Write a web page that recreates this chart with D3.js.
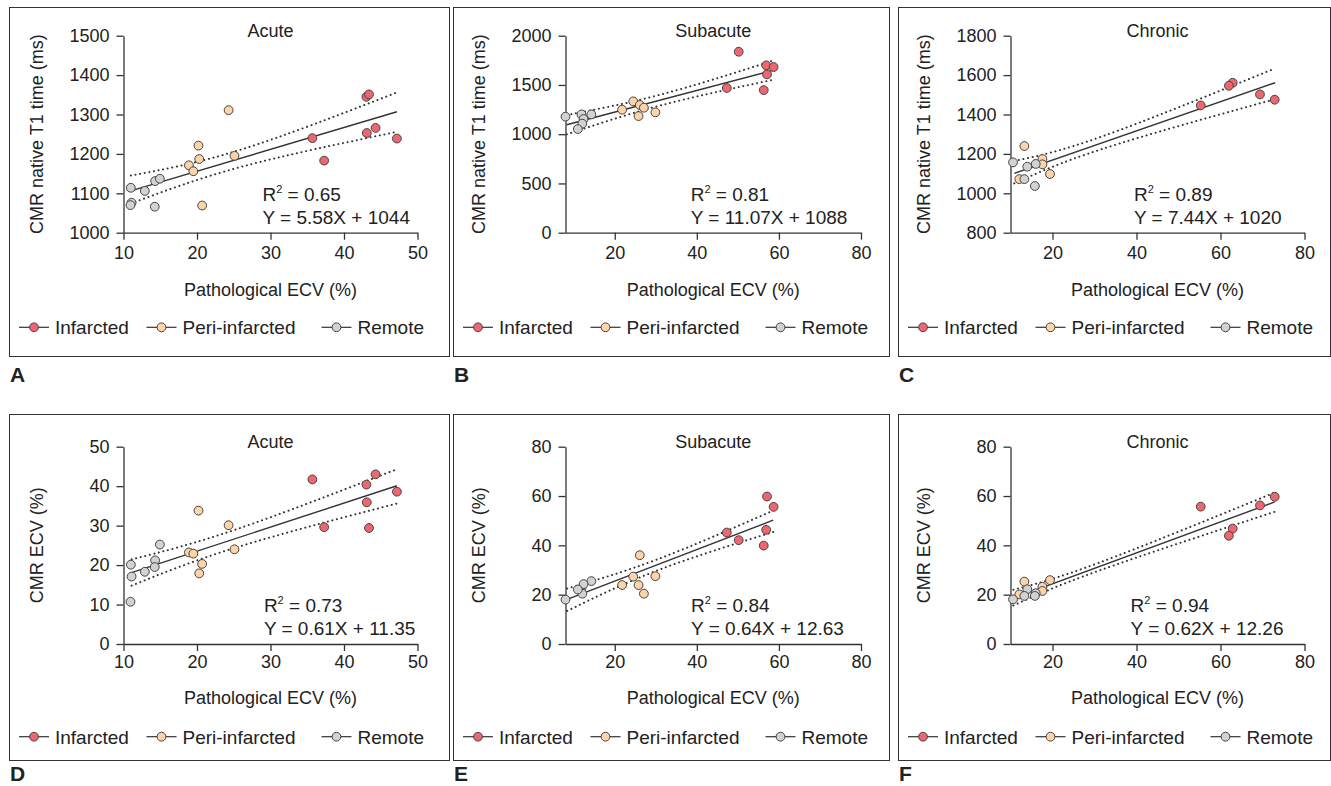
<!DOCTYPE html>
<html>
<head>
<meta charset="utf-8">
<script src="https://cdn.jsdelivr.net/npm/d3@7"></script>
<style>
  body { margin: 0; background: #fff; }
  text { font-family: "Liberation Sans", Arial, sans-serif; fill: #222; }
</style>
</head>
<body>
<div id="chart"></div>
<script>
// ---- data ----
var groups = ["Infarcted", "Peri-infarcted", "Remote"];
var groupFill = ["#ee6770", "#fdd3a8", "#d2d2d2"];

// pathological ECV (%) per sample (x axis, shared by the T1 and ECV panels)
var acuteInfX    = [35.7, 37.3, 47.2, 44.3, 43.05, 43.1, 43.4];
var acutePeriX   = [24.3, 20.2, 20.3, 18.9, 19.5, 25.1, 20.7];
var acuteRemX    = [11.0, 11.1, 10.95, 12.9, 14.3, 14.95, 14.25];
var subInfX      = [50.2, 56.9, 58.7, 57.1, 47.3, 56.3];
var subPeriX     = [24.5, 26.1, 27.1, 21.8, 29.9, 25.8];
var subRemX      = [8.0, 11.9, 14.3, 12.4, 12.1, 11.0];
var chrInfX      = [62.9, 62.0, 55.3, 69.4, 72.9];
var chrPeriX     = [13.3, 17.6, 17.6, 19.4, 12.1];
var chrRemX      = [10.6, 14.0, 16.0, 13.3, 15.8];

// CMR native T1 time (ms)
var acuteInfT1   = [1240, 1183, 1239, 1266, 1345, 1253, 1351];
var acutePeriT1  = [1311, 1221, 1187, 1171, 1156, 1195, 1069];
var acuteRemT1   = [1114, 1076, 1070, 1106, 1131, 1137, 1066];
var subInfT1     = [1837, 1699, 1682, 1607, 1469, 1448];
var subPeriT1    = [1333, 1296, 1269, 1249, 1222, 1184];
var subRemT1     = [1178, 1201, 1201, 1154, 1107, 1052];
var chrInfT1     = [1561, 1546, 1446, 1502, 1475];
var chrPeriT1    = [1240, 1174, 1147, 1098, 1072];
var chrRemT1     = [1157, 1135, 1149, 1072, 1037];

// CMR ECV (%)
var acuteInfEcv  = [41.7, 29.6, 38.6, 43.0, 40.4, 35.9, 29.4];
var acutePeriEcv = [30.1, 33.8, 17.9, 23.2, 22.9, 24.0, 20.3];
var acuteRemEcv  = [20.1, 17.1, 10.7, 18.3, 21.2, 25.2, 19.5];
var subInfEcv    = [42.1, 46.3, 55.6, 59.8, 45.2, 39.9];
var subPeriEcv   = [27.3, 36.0, 20.4, 23.9, 27.5, 23.9];
var subRemEcv    = [18.0, 22.5, 25.5, 24.3, 20.4, 22.1];
var chrInfEcv    = [46.8, 43.9, 55.7, 56.2, 59.7];
var chrPeriEcv   = [25.3, 23.2, 21.5, 25.9, 20.1];
var chrRemEcv    = [18.1, 22.2, 20.6, 19.5, 19.5];

// regression line ends and 95% band (start, middle, end) as drawn
var fitX  = [[11.0, 47.2], [8.3, 58.3], [10.9, 73.0], [11.1, 47.2], [8.4, 58.6], [10.7, 72.9]];
var fitY  = [[1106, 1307], [1096, 1645], [1101, 1561], [18.1, 40.1], [18.1, 50.2], [18.6, 57.6]];
var bandX = [[11.0, 26, 47.2], [8.3, 31, 58.3], [10.9, 32, 73.0], [11.1, 25.4, 47.2], [8.4, 30.5, 58.6], [10.7, 31, 72.9]];
var bandHi = [[1145, 1211, 1356], [1195, 1400, 1743], [1164, 1290, 1634], [21.45, 29.1, 44.3], [22.5, 34.4, 54.1], [22.0, 32.9, 61.4]];
var bandLo = [[1074, 1167, 1256], [998, 1290, 1550], [1050, 1226, 1478], [14.8, 24.5, 35.6], [13.4, 29.9, 45.4], [15.6, 29.7, 53.6]];

var r2Text = ["0.65", "0.81", "0.89", "0.73", "0.84", "0.94"];
var eqText = ["Y = 5.58X + 1044", "Y = 11.07X + 1088", "Y = 7.44X + 1020",
              "Y = 0.61X + 11.35", "Y = 0.64X + 12.63", "Y = 0.62X + 12.26"];
var titles = ["Acute", "Subacute", "Chronic"];
var letters = ["A", "B", "C", "D", "E", "F"];
var yTitles = ["CMR native T1 time (ms)", "CMR ECV (%)"];

var xDomains = [[10, 50], [8, 80], [10, 80]];
var xTicks = [[10, 20, 30, 40, 50], [20, 40, 60, 80], [20, 40, 60, 80]];
var yDomains = [[1000, 1500], [0, 2000], [800, 1800], [0, 50], [0, 80], [0, 80]];
var yTicks = [[1000, 1100, 1200, 1300, 1400, 1500], [0, 500, 1000, 1500, 2000], [800, 1000, 1200, 1400, 1600, 1800],
              [0, 10, 20, 30, 40, 50], [0, 20, 40, 60, 80], [0, 20, 40, 60, 80]];
var annX = [28.9, 38.5, 39.4, 29.1, 38.6, 38.6];

var xs = [[acuteInfX, acutePeriX, acuteRemX], [subInfX, subPeriX, subRemX], [chrInfX, chrPeriX, chrRemX]];
var ysT1 = [[acuteInfT1, acutePeriT1, acuteRemT1], [subInfT1, subPeriT1, subRemT1], [chrInfT1, chrPeriT1, chrRemT1]];
var ysEcv = [[acuteInfEcv, acutePeriEcv, acuteRemEcv], [subInfEcv, subPeriEcv, subRemEcv], [chrInfEcv, chrPeriEcv, chrRemEcv]];

// ---- layout ----
var W = 1331, H = 786;
var colLeft = [9, 453, 898], colRight = [449, 889, 1330];
var rowTop = [7, 414], rowBottom = [356, 760];
var plotL = [123.5, 565.5, 1010.5], plotR = [417.5, 861, 1304.5];
var plotT = [35.7, 446.7], plotB = [232.7, 644];
var tickPad = [7, 4], xTitleOff = [63, 60], legendY = [327.3, 736.7], letterOff = [26, 21];
var legendCx = [25, 152.5, 327.5];
var ink = "#333";

var svg = d3.select("#chart").append("svg").attr("width", W).attr("height", H);
svg.append("rect").attr("width", W).attr("height", H).attr("fill", "#fff");

for (var i = 0; i < 6; i++) {
    var row = Math.floor(i / 3), col = i % 3;
    var bl = colLeft[col];
    var g = svg.append("g");

    // frame + panel letter
    g.append("rect")
        .attr("x", bl + 0.5).attr("y", rowTop[row] + 0.5)
        .attr("width", colRight[col] - bl).attr("height", rowBottom[row] - rowTop[row])
        .attr("fill", "none").attr("stroke", ink).attr("stroke-width", 1);
    g.append("text")
        .attr("x", bl + 1).attr("y", rowBottom[row] + letterOff[row])
        .attr("font-size", 21).attr("font-weight", "bold")
        .text(letters[i]);

    var x = d3.scaleLinear().domain(xDomains[col]).range([plotL[col], plotR[col]]);
    var y = d3.scaleLinear().domain(yDomains[i]).range([plotB[row], plotT[row]]);

    var xa = g.append("g").attr("transform", "translate(0," + plotB[row] + ")")
        .call(d3.axisBottom(x).tickValues(xTicks[col]).tickFormat(d3.format("d"))
            .tickSize(7).tickSizeOuter(0).tickPadding(tickPad[row]));
    var ya = g.append("g").attr("transform", "translate(" + plotL[col] + ",0)")
        .call(d3.axisLeft(y).tickValues(yTicks[i]).tickFormat(d3.format("d"))
            .tickSize(7).tickSizeOuter(0).tickPadding(7));
    [xa, ya].forEach(function(a) {
        a.attr("font-family", null).attr("font-size", null);
        a.selectAll("path, line").attr("stroke", ink).attr("stroke-width", 1.3);
        a.selectAll("text").attr("font-size", 18).attr("fill", "#222");
    });

    // titles
    var cx = (plotL[col] + plotR[col]) / 2;
    g.append("text").attr("x", cx).attr("y", plotT[row] + 1.5)
        .attr("text-anchor", "middle").attr("font-size", 18).text(titles[col]);
    g.append("text").attr("x", cx).attr("y", plotB[row] + xTitleOff[row])
        .attr("text-anchor", "middle").attr("font-size", 18).text("Pathological ECV (%)");
    g.append("text")
        .attr("transform", "translate(" + (plotL[col] - 81) + "," + ((plotT[row] + plotB[row]) / 2) + ") rotate(-90)")
        .attr("text-anchor", "middle").attr("font-size", 18).text(yTitles[row]);

    // confidence band + fit
    var line = d3.line().x(function(d) { return x(d[0]); }).y(function(d) { return y(d[1]); });
    [bandHi[i], bandLo[i]].forEach(function(b) {
        g.append("path")
            .attr("d", line.curve(d3.curveNatural)(d3.zip(bandX[i], b)))
            .attr("fill", "none").attr("stroke", ink).attr("stroke-width", 2)
            .attr("stroke-linecap", "round").attr("stroke-dasharray", "0.1 4.6");
    });
    g.append("path")
        .attr("d", d3.line().x(function(d) { return x(d[0]); }).y(function(d) { return y(d[1]); })(d3.zip(fitX[i], fitY[i])))
        .attr("fill", "none").attr("stroke", ink).attr("stroke-width", 1.4);

    // points
    var yv = row === 0 ? ysT1[col] : ysEcv[col];
    groups.forEach(function(name, k) {
        g.append("g").selectAll("circle")
            .data(d3.zip(xs[col][k], yv[k]))
            .enter().append("circle")
                .attr("cx", function(d) { return x(d[0]); })
                .attr("cy", function(d) { return y(d[1]); })
                .attr("r", 4.4)
                .attr("fill", groupFill[k])
                .attr("stroke", "#444").attr("stroke-width", 1);
    });

    // annotation
    var ax = x(annX[i]);
    var t1 = g.append("text").attr("x", ax).attr("y", plotB[row] - 32).attr("font-size", 19);
    t1.append("tspan").text("R");
    t1.append("tspan").attr("font-size", 11).attr("dy", -8).text("2");
    t1.append("tspan").attr("dy", 8).text(" = " + r2Text[i]);
    g.append("text").attr("x", ax).attr("y", plotB[row] - 9).attr("font-size", 19).text(eqText[i]);

    // legend
    groups.forEach(function(name, k) {
        var lx = bl + legendCx[k], ly = legendY[row];
        g.append("line").attr("x1", lx - 15).attr("x2", lx + 15).attr("y1", ly).attr("y2", ly)
            .attr("stroke", ink).attr("stroke-width", 1.2);
        g.append("circle").attr("cx", lx).attr("cy", ly).attr("r", 4.4)
            .attr("fill", groupFill[k]).attr("stroke", "#444").attr("stroke-width", 1);
        g.append("text").attr("x", lx + 21).attr("y", ly).attr("dy", "0.36em")
            .attr("font-size", 19).text(name);
    });
}
</script>
</body>
</html>
